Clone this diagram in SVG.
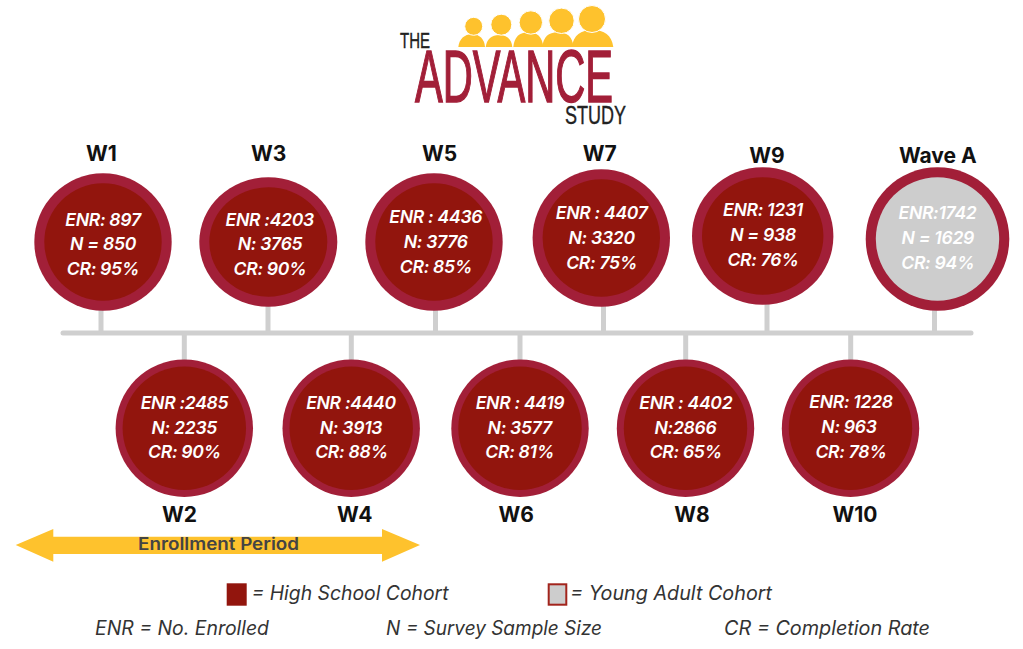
<svg xmlns="http://www.w3.org/2000/svg" width="1023" height="649" viewBox="0 0 1023 649">
<style>
text{font-family:Inter,"Open Sans","Liberation Sans",sans-serif}
.o{fill:#a21f38}.i{fill:#92150d}.g{fill:#cdcdcd}
.s{stroke:#cfcfcf;stroke-width:5;fill:none}
.t{font-size:17.6px;font-weight:600;font-style:italic;fill:#fff;text-anchor:middle;letter-spacing:-.3px}
.h{font-size:21px;font-weight:700;fill:#111;text-anchor:middle}
.l{font-size:19.5px;font-style:italic;fill:#333}
.y{fill:#fec22d}
.b{stroke:#fff;stroke-width:1}
.lg{font-family:"Liberation Sans Narrow","Liberation Sans",sans-serif}
</style>
<g id="logo">
<g class="y">
<path d="M458.3 47c1-8 6-12.700 13.700-12.700s12.300 4.700 13 12.700z"/>
<path d="M485.700 47c1-8 6-12 13.500-12s12.300 4 13.100 12z"/>
<path d="M513.300 47c1-10 6-14.700 15-14.700s14 4.700 15 14.700z"/>
<path d="M542.300 47c1-10 6-14.700 15.500-14.700s15 4.700 15.500 14.700z"/>
<path d="M571.700 47c2-12 9-17 20.800-17s19 5 20.800 17z"/>
<circle class="b" cx="473.700" cy="26.300" r="9"/>
<circle class="b" cx="501.300" cy="24.700" r="10.500"/>
<circle class="b" cx="530.800" cy="22.500" r="11.700"/>
<circle class="b" cx="561.500" cy="20.800" r="12.700"/>
<circle class="b" cx="592" cy="19" r="13.500"/>
</g>
<text class="lg" x="400" y="48" font-size="21.800" fill="#222" stroke="#222" stroke-width=".4" textLength="30" lengthAdjust="spacingAndGlyphs">THE</text>
<text class="lg" x="415" y="101.700" font-size="75" fill="#a21f38" stroke="#a21f38" stroke-width="1.500" textLength="198" lengthAdjust="spacingAndGlyphs">ADVANCE</text>
<text class="lg" x="565" y="124" font-size="26.600" fill="#222" stroke="#222" stroke-width=".4" textLength="61" lengthAdjust="spacingAndGlyphs">STUDY</text>
</g>
<g id="connectors">
<line class="s" x1="63" y1="333" x2="971" y2="333" stroke-linecap="round"/>
<line class="s" x1="101" y1="305" x2="101" y2="333"/>
<line class="s" x1="268" y1="300" x2="268" y2="333"/>
<line class="s" x1="435.500" y1="305" x2="435.500" y2="333"/>
<line class="s" x1="603.500" y1="300" x2="603.500" y2="333"/>
<line class="s" x1="767" y1="300" x2="767" y2="333"/>
<line class="s" x1="934.500" y1="305" x2="934.500" y2="333"/>
<line class="s" x1="184.300" y1="333" x2="184.300" y2="365"/>
<line class="s" x1="351.300" y1="333" x2="351.300" y2="365"/>
<line class="s" x1="520" y1="333" x2="520" y2="365"/>
<line class="s" x1="685.700" y1="333" x2="685.700" y2="365"/>
<line class="s" x1="850.700" y1="333" x2="850.700" y2="365"/>
</g>
<g id="w1"><text class="h" x="101.300" y="161">W1</text><circle class="o" cx="103" cy="242" r="68.700"/><circle class="i" cx="103" cy="242" r="58.700"/><text class="t" x="103" y="226">ENR: 897</text><text class="t" x="103" y="250">N = 850</text><text class="t" x="103" y="275">CR: 95%</text></g>
<g id="w3"><text class="h" x="268.700" y="161">W3</text><ellipse class="o" cx="268.300" cy="242" rx="69" ry="64.700"/><ellipse class="i" cx="268.300" cy="242" rx="59" ry="54.700"/><text class="t" x="269.800" y="226">ENR :4203</text><text class="t" x="270" y="250">N: 3765</text><text class="t" x="270" y="275">CR: 90%</text></g>
<g id="w5"><text class="h" x="439.700" y="161">W5</text><circle class="o" cx="434" cy="242" r="68.700"/><circle class="i" cx="434" cy="242" r="58.700"/><text class="t" x="435.800" y="222.700">ENR : 4436</text><text class="t" x="435.700" y="247.700">N: 3776</text><text class="t" x="436" y="272.700">CR: 85%</text></g>
<g id="w7"><text class="h" x="599.700" y="161">W7</text><circle class="o" cx="601.300" cy="238" r="68.700"/><circle class="i" cx="601.300" cy="238" r="58.700"/><text class="t" x="601.700" y="219">ENR : 4407</text><text class="t" x="601.700" y="244">N: 3320</text><text class="t" x="601.700" y="268.700">CR: 75%</text></g>
<g id="w9"><text class="h" x="767" y="163.300">W9</text><ellipse class="o" cx="762.700" cy="236" rx="70.700" ry="68.700"/><ellipse class="i" cx="762.700" cy="236" rx="60.700" ry="58.700"/><text class="t" x="763" y="216">ENR: 1231</text><text class="t" x="763" y="241">N = 938</text><text class="t" x="763" y="265.700">CR: 76%</text></g>
<g id="wave-a"><text class="h" x="937.800" y="162.700">Wave A</text><circle class="o" cx="937.500" cy="239" r="71.800"/><circle class="g" cx="937.500" cy="239" r="61.700"/><text class="t" x="937.500" y="218.700">ENR:1742</text><text class="t" x="937.800" y="244">N = 1629</text><text class="t" x="937.800" y="268.700">CR: 94%</text></g>
<g id="w2"><text class="h" x="179.500" y="522.300">W2</text><circle class="o" cx="184.300" cy="428.200" r="68.700"/><circle class="i" cx="184.300" cy="428.200" r="61.700"/><text class="t" x="184.500" y="409">ENR :2485</text><text class="t" x="184.300" y="433.700">N: 2235</text><text class="t" x="184.500" y="458">CR: 90%</text></g>
<g id="w4"><text class="h" x="354.700" y="522.300">W4</text><circle class="o" cx="351.200" cy="428.200" r="68.700"/><circle class="i" cx="351.200" cy="428.200" r="61.700"/><text class="t" x="351" y="409">ENR :4440</text><text class="t" x="351" y="433.700">N: 3913</text><text class="t" x="351.500" y="458">CR: 88%</text></g>
<g id="w6"><text class="h" x="516.300" y="522.300">W6</text><circle class="o" cx="520" cy="428.200" r="68.700"/><circle class="i" cx="520" cy="428.200" r="61.700"/><text class="t" x="520" y="409">ENR : 4419</text><text class="t" x="519.700" y="433.700">N: 3577</text><text class="t" x="519.700" y="458">CR: 81%</text></g>
<g id="w8"><text class="h" x="692" y="522.300">W8</text><circle class="o" cx="685.500" cy="428.200" r="68.700"/><circle class="i" cx="685.500" cy="428.200" r="61.700"/><text class="t" x="685.800" y="409">ENR : 4402</text><text class="t" x="685.500" y="433.700">N:2866</text><text class="t" x="685.800" y="458">CR: 65%</text></g>
<g id="w10"><text class="h" x="855" y="522.300">W10</text><circle class="o" cx="850.500" cy="428.200" r="68.700"/><circle class="i" cx="850.500" cy="428.200" r="61.700"/><text class="t" x="851" y="408">ENR: 1228</text><text class="t" x="849" y="433">N: 963</text><text class="t" x="851" y="458">CR: 78%</text></g>
<g id="enrollment">
<polygon class="y" points="15.700,545 53.300,529 53.300,536.700 382,536.700 382,529 420,545 382,561.700 382,554 53.300,554 53.300,561.700"/>
<text x="138" y="550" font-size="17" font-weight="600" fill="#444" textLength="161" lengthAdjust="spacingAndGlyphs">Enrollment Period</text>
</g>
<g id="legend">
<rect x="226.700" y="583.300" width="20" height="22.400" fill="#92150d"/>
<text class="l" x="251.500" y="600" textLength="197" lengthAdjust="spacingAndGlyphs">= High School Cohort</text>
<rect x="548.700" y="584.300" width="17.600" height="20.400" fill="#cdcdcd" stroke="#a2241c" stroke-width="2"/>
<text class="l" x="570" y="600" textLength="202" lengthAdjust="spacingAndGlyphs">= Young Adult Cohort</text>
<text class="l" x="95" y="634.500" textLength="174" lengthAdjust="spacingAndGlyphs">ENR = No. Enrolled</text>
<text class="l" x="386" y="634.500" textLength="216" lengthAdjust="spacingAndGlyphs">N = Survey Sample Size</text>
<text class="l" x="724" y="634.500" textLength="206" lengthAdjust="spacingAndGlyphs">CR = Completion Rate</text>
</g>
</svg>
